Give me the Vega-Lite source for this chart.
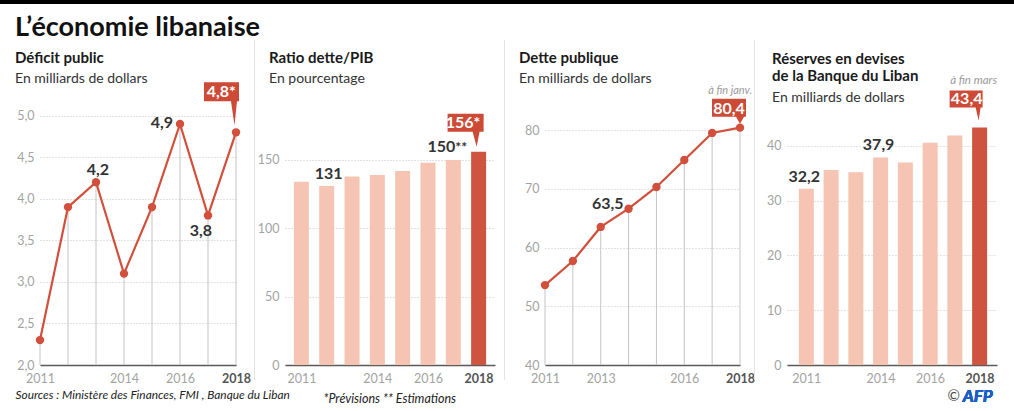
{
  "$schema": "https://vega.github.io/schema/vega-lite/v6.json",
  "autosize": "none",
  "padding": {"left": 0, "top": 0, "right": 1014, "bottom": 411},
  "background": "#ffffff",
  "bounds": "flush",
  "spacing": 36,
  "config": {
    "font": "Lato",
    "locale": {"number": {"decimal": ",", "thousands": "\u00a0", "grouping": [3], "currency": ["", "\u00a0€"]}},
    "view": {"stroke": null},
    "axis": {"labelFont": "Lato", "labelFontSize": 12.5, "labelColor": "#a3a3a3", "ticks": false, "labelFlush": false, "labelOverlap": false, "labelBound": false, "titleFont": "Lato"},
    "axisY": {"domain": false, "grid": true, "gridColor": "#c4c4c4", "gridDash": [1, 2], "gridWidth": 1, "labelPadding": 6},
    "axisX": {"domain": true, "domainColor": "#5a5a5a", "domainWidth": 1.5, "grid": false, "labelPadding": 7},
    "title": {"font": "Lato", "anchor": "start", "frame": "group", "fontSize": 15, "fontWeight": "bold", "color": "#1a1a1a", "subtitleFont": "Lato", "subtitleFontSize": 14, "subtitleColor": "#333333", "subtitlePadding": 6, "offset": -46}
  },
  "vconcat": [
    {"width": 1014, "height": 4, "view": {"fill": "#000000"}, "data": {"values": []}, "mark": "point"},
    {
      "title": {"text": "L’économie libanaise", "anchor": "start", "frame": "group", "dx": 15, "offset": -2, "fontSize": 27, "fontWeight": "bold", "color": "#111111", "font": "Lato"},
      "bounds": "flush",
      "spacing": 39,
      "hconcat": [
        {"width": 1, "height": 1, "data": {"values": []}, "mark": "point"},
        {
          "bounds": "flush",
          "spacing": 18,
          "hconcat": [
            {
              "width": 196,
              "height": 325,
              "title": {"text": "Déficit public", "subtitle": "En milliards de dollars", "dx": -25},
              "data": {"values": [
                {"year": 2011, "value": 2.3},
                {"year": 2012, "value": 3.9},
                {"year": 2013, "value": 4.2},
                {"year": 2014, "value": 3.1},
                {"year": 2015, "value": 3.9},
                {"year": 2016, "value": 4.9},
                {"year": 2017, "value": 3.8},
                {"year": 2018, "value": 4.8, "flag": "*"}
              ]},
              "encoding": {
                "x": {"field": "year", "type": "quantitative", "scale": {"domain": [2011, 2018], "nice": false, "zero": false},
                  "axis": {"values": [2011, 2014, 2016, 2018], "format": "d",
                    "labelFontWeight": {"condition": {"test": "datum.value == 2018", "value": "bold"}, "value": "normal"},
                    "labelColor": {"condition": {"test": "datum.value == 2018", "value": "#555555"}, "value": "#a3a3a3"},
                    "title": "Sources : Ministère des Finances, FMI , Banque du Liban", "titleX": -25, "titleY": 33, "titleAlign": "left", "titleAnchor": "start", "titleBaseline": "alphabetic", "titleFontStyle": "italic", "titleFontWeight": "normal", "titleFontSize": 11.9, "titleColor": "#222222"}},
                "y": {"field": "value", "type": "quantitative", "scale": {"domain": [2, 5.911], "nice": false, "zero": false},
                  "axis": {"values": [2, 2.5, 3, 3.5, 4, 4.5, 5], "format": ".1f", "title": null}}
              },
              "layer": [
                {"mark": {"type": "rule", "color": "#c4c4c4", "strokeWidth": 1}, "encoding": {"y2": {"datum": 2}}},
                {"mark": {"type": "line", "color": "#d2503b", "strokeWidth": 2.2}, "encoding": {}},
                {"mark": {"type": "point", "filled": true, "color": "#d2503b", "size": 70, "opacity": 1}},
                {"transform": [{"filter": "datum.year == 2013"}],
                  "mark": {"type": "text", "fontSize": 16, "fontWeight": "bold", "color": "#333333", "dx": 2, "dy": -7, "baseline": "alphabetic"},
                  "encoding": {"text": {"field": "value", "type": "quantitative", "format": ".1f"}}},
                {"transform": [{"filter": "datum.year == 2016"}],
                  "mark": {"type": "text", "fontSize": 16, "fontWeight": "bold", "color": "#333333", "align": "right", "dx": -7, "dy": 4, "baseline": "alphabetic"},
                  "encoding": {"text": {"field": "value", "type": "quantitative", "format": ".1f"}}},
                {"transform": [{"filter": "datum.year == 2017"}],
                  "mark": {"type": "text", "fontSize": 16, "fontWeight": "bold", "color": "#333333", "dx": -7, "dy": 21, "baseline": "alphabetic"},
                  "encoding": {"text": {"field": "value", "type": "quantitative", "format": ".1f"}}},
                {"transform": [{"filter": "datum.year == 2018"}],
                  "mark": {"type": "point", "shape": "M-32,-50H3V-31H1L-1.5,-7L-5,-31H-32Z", "size": 4, "filled": true, "color": "#cd4a36", "opacity": 1, "strokeWidth": 0}},
                {"transform": [{"filter": "datum.year == 2018"}],
                  "mark": {"type": "text", "fontSize": 16, "fontWeight": "bold", "color": "#ffffff", "align": "right", "dx": -7, "dy": -35, "baseline": "alphabetic"},
                  "encoding": {"text": {"field": "value", "type": "quantitative", "format": ".1f"}}},
                {"transform": [{"filter": "datum.year == 2018"}],
                  "mark": {"type": "text", "fontSize": 16, "fontWeight": "bold", "color": "#ffffff", "align": "left", "dx": -7, "dy": -35, "baseline": "alphabetic"},
                  "encoding": {"text": {"field": "flag", "type": "nominal"}}}
              ]
            },
            {
              "bounds": "flush",
              "spacing": 30,
              "hconcat": [
                {"width": 1, "height": 340, "view": {"fill": "#e4e4e4"}, "data": {"values": []}, "mark": "point"},
                {
                  "bounds": "flush",
                  "spacing": 9,
                  "hconcat": [
                    {
                      "width": 210,
                      "height": 325,
                      "title": {"text": "Ratio dette/PIB", "subtitle": "En pourcentage", "dx": -16},
                      "data": {"values": [
                        {"year": 2011, "value": 134},
                        {"year": 2012, "value": 131},
                        {"year": 2013, "value": 138},
                        {"year": 2014, "value": 139},
                        {"year": 2015, "value": 142},
                        {"year": 2016, "value": 148},
                        {"year": 2017, "value": 150, "flag": "**"},
                        {"year": 2018, "value": 156, "flag": "*"}
                      ]},
                      "encoding": {
                        "x": {"field": "year", "type": "quantitative", "scale": {"domain": [2010.55, 2018.45], "nice": false, "zero": false},
                          "axis": {"values": [2011, 2014, 2016, 2018], "format": "d",
                            "labelFontWeight": {"condition": {"test": "datum.value == 2018", "value": "bold"}, "value": "normal"},
                            "labelColor": {"condition": {"test": "datum.value == 2018", "value": "#555555"}, "value": "#a3a3a3"},
                            "title": "*Prévisions    ** Estimations", "titleX": 38, "titleY": 37, "titleAlign": "left", "titleAnchor": "start", "titleBaseline": "alphabetic", "titleFontStyle": "italic", "titleFontWeight": "normal", "titleFontSize": 12.5, "titleColor": "#222222"}},
                        "y": {"field": "value", "type": "quantitative", "scale": {"domain": [0, 237.8], "nice": false, "zero": true},
                          "axis": {"values": [0, 50, 100, 150], "format": "d", "title": null}}
                      },
                      "layer": [
                        {"mark": {"type": "bar", "size": 15},
                          "encoding": {"color": {"condition": {"test": "datum.year == 2018", "value": "#cf5440"}, "value": "#f6c4b2"}}},
                        {"transform": [{"filter": "datum.year == 2012"}],
                          "mark": {"type": "text", "fontSize": 16, "fontWeight": "bold", "color": "#333333", "dx": 2, "dy": -7, "baseline": "alphabetic"},
                          "encoding": {"text": {"field": "value", "type": "quantitative", "format": "d"}}},
                        {"transform": [{"filter": "datum.year == 2017"}],
                          "mark": {"type": "text", "fontSize": 16, "fontWeight": "bold", "color": "#333333", "align": "right", "dx": 2, "dy": -8, "baseline": "alphabetic"},
                          "encoding": {"text": {"field": "value", "type": "quantitative", "format": "d"}}},
                        {"transform": [{"filter": "datum.year == 2017"}],
                          "mark": {"type": "text", "fontSize": 14, "fontWeight": "bold", "color": "#333333", "align": "left", "dx": 2, "dy": -8, "baseline": "alphabetic"},
                          "encoding": {"text": {"field": "flag", "type": "nominal"}}},
                        {"transform": [{"filter": "datum.year == 2018"}],
                          "mark": {"type": "point", "shape": "M-31,-38H5V-20H1L-2,-5L-6,-20H-31Z", "size": 4, "filled": true, "color": "#cd4a36", "opacity": 1, "strokeWidth": 0}},
                        {"transform": [{"filter": "datum.year == 2018"}],
                          "mark": {"type": "text", "fontSize": 16, "fontWeight": "bold", "color": "#ffffff", "align": "right", "dx": -5, "dy": -23.5, "baseline": "alphabetic"},
                          "encoding": {"text": {"field": "value", "type": "quantitative", "format": "d"}}},
                        {"transform": [{"filter": "datum.year == 2018"}],
                          "mark": {"type": "text", "fontSize": 16, "fontWeight": "bold", "color": "#ffffff", "align": "left", "dx": -5, "dy": -23.5, "baseline": "alphabetic"},
                          "encoding": {"text": {"field": "flag", "type": "nominal"}}}
                      ]
                    },
                    {
                      "bounds": "flush",
                      "spacing": 40,
                      "hconcat": [
                        {"width": 1, "height": 340, "view": {"fill": "#e4e4e4"}, "data": {"values": []}, "mark": "point"},
                        {
                          "bounds": "flush",
                          "spacing": 14,
                          "hconcat": [
                            {
                              "width": 195,
                              "height": 325,
                              "title": {"text": "Dette publique", "subtitle": "En milliards de dollars", "dx": -26},
                              "data": {"values": [
                                {"year": 2011, "value": 53.6},
                                {"year": 2012, "value": 57.7},
                                {"year": 2013, "value": 63.5},
                                {"year": 2014, "value": 66.6},
                                {"year": 2015, "value": 70.3},
                                {"year": 2016, "value": 74.9},
                                {"year": 2017, "value": 79.5},
                                {"year": 2018, "value": 80.4, "note": "à fin janv."}
                              ]},
                              "encoding": {
                                "x": {"field": "year", "type": "quantitative", "scale": {"domain": [2011, 2018], "nice": false, "zero": false},
                                  "axis": {"values": [2011, 2013, 2016, 2018], "format": "d", "title": null,
                                    "labelFontWeight": {"condition": {"test": "datum.value == 2018", "value": "bold"}, "value": "normal"},
                                    "labelColor": {"condition": {"test": "datum.value == 2018", "value": "#555555"}, "value": "#a3a3a3"}}},
                                "y": {"field": "value", "type": "quantitative", "scale": {"domain": [40, 95.32], "nice": false, "zero": false},
                                  "axis": {"values": [40, 50, 60, 70, 80], "format": "d", "title": null}}
                              },
                              "layer": [
                                {"mark": {"type": "rule", "color": "#c4c4c4", "strokeWidth": 1}, "encoding": {"y2": {"datum": 40}}},
                                {"mark": {"type": "line", "color": "#d2503b", "strokeWidth": 2.2}, "encoding": {}},
                                {"mark": {"type": "point", "filled": true, "color": "#d2503b", "size": 70, "opacity": 1}},
                                {"transform": [{"filter": "datum.year == 2013"}],
                                  "mark": {"type": "text", "fontSize": 16, "fontWeight": "bold", "color": "#333333", "dx": 7, "dy": -18, "baseline": "alphabetic"},
                                  "encoding": {"text": {"field": "value", "type": "quantitative", "format": ".1f"}}},
                                {"transform": [{"filter": "datum.year == 2018"}],
                                  "mark": {"type": "point", "shape": "M-28,-29H6V-11H4L0,-4L-4,-11H-28Z", "size": 4, "filled": true, "color": "#cd4a36", "opacity": 1, "strokeWidth": 0}},
                                {"transform": [{"filter": "datum.year == 2018"}],
                                  "mark": {"type": "text", "fontSize": 16, "fontWeight": "bold", "color": "#ffffff", "dx": -11, "dy": -14, "baseline": "alphabetic"},
                                  "encoding": {"text": {"field": "value", "type": "quantitative", "format": ".1f"}}},
                                {"transform": [{"filter": "isValid(datum.note)"}],
                                  "mark": {"type": "text", "fontSize": 11, "fontStyle": "italic", "color": "#9a9a9a", "align": "right", "dx": 12, "dy": -34, "baseline": "alphabetic"},
                                  "encoding": {"text": {"field": "note", "type": "nominal"}}}
                              ]
                            },
                            {
                              "bounds": "flush",
                              "spacing": 32,
                              "hconcat": [
                                {"width": 1, "height": 340, "view": {"fill": "#e4e4e4"}, "data": {"values": []}, "mark": "point"},
                                {
                                  "width": 210,
                                  "height": 325,
                                  "title": {"text": ["Réserves en devises", "de la Banque du Liban"], "subtitle": "En milliards de dollars", "dx": -15, "lineHeight": 17, "subtitlePadding": 7, "offset": -65},
                                  "data": {"values": [
                                    {"year": 2011, "value": 32.2},
                                    {"year": 2012, "value": 35.6},
                                    {"year": 2013, "value": 35.2},
                                    {"year": 2014, "value": 37.9},
                                    {"year": 2015, "value": 37.0},
                                    {"year": 2016, "value": 40.6},
                                    {"year": 2017, "value": 41.9},
                                    {"year": 2018, "value": 43.4, "note": "à fin mars"}
                                  ]},
                                  "encoding": {
                                    "x": {"field": "year", "type": "quantitative", "scale": {"domain": [2010.42, 2018.5], "nice": false, "zero": false},
                                      "axis": {"values": [2011, 2014, 2016, 2018], "format": "d",
                                        "labelFontWeight": {"condition": {"test": "datum.value == 2018", "value": "bold"}, "value": "normal"},
                                        "labelColor": {"condition": {"test": "datum.value == 2018", "value": "#555555"}, "value": "#a3a3a3"},
                                        "title": "©", "titleX": 160, "titleY": 35, "titleAlign": "left", "titleAnchor": "start", "titleBaseline": "alphabetic", "titleFontWeight": "normal", "titleFontSize": 15, "titleColor": "#444444"}},
                                    "y": {"field": "value", "type": "quantitative", "scale": {"domain": [0, 59.36], "nice": false, "zero": true},
                                      "axis": {"values": [0, 10, 20, 30, 40], "format": "d", "title": null}}
                                  },
                                  "layer": [
                                    {"mark": {"type": "bar", "size": 15},
                                      "encoding": {"color": {"condition": {"test": "datum.year == 2018", "value": "#cf5440"}, "value": "#f6c4b2"}}},
                                    {"transform": [{"filter": "datum.year == 2011 || datum.year == 2014"}],
                                      "mark": {"type": "text", "fontSize": 16, "fontWeight": "bold", "color": "#333333", "dx": -2, "dy": -7, "baseline": "alphabetic"},
                                      "encoding": {"text": {"field": "value", "type": "quantitative", "format": ".1f"}}},
                                    {"transform": [{"filter": "datum.year == 2018"}],
                                      "mark": {"type": "point", "shape": "M-30,-37H3V-20H1L-1,-7L-4,-20H-30Z", "size": 4, "filled": true, "color": "#cd4a36", "opacity": 1, "strokeWidth": 0}},
                                    {"transform": [{"filter": "datum.year == 2018"}],
                                      "mark": {"type": "text", "fontSize": 16, "fontWeight": "bold", "color": "#ffffff", "dx": -13, "dy": -23.5, "baseline": "alphabetic"},
                                      "encoding": {"text": {"field": "value", "type": "quantitative", "format": ".1f"}}},
                                    {"transform": [{"filter": "isValid(datum.note)"}],
                                      "mark": {"type": "text", "fontSize": 11.5, "fontStyle": "italic", "color": "#9a9a9a", "dx": -6, "dy": -43, "baseline": "alphabetic"},
                                      "encoding": {"text": {"field": "note", "type": "nominal"}}},
                                    {"mark": {"type": "text", "text": "AFP", "fontSize": 17, "fontWeight": "bold", "fontStyle": "italic", "color": "#1d5fc4", "dx": -2, "dy": 37, "baseline": "alphabetic"},
                                      "encoding": {"x": {"datum": 2018}, "y": {"datum": 0}}}
                                  ]
                                }
                              ]
                            }
                          ]
                        }
                      ]
                    }
                  ]
                }
              ]
            }
          ]
        }
      ]
    }
  ]
}
